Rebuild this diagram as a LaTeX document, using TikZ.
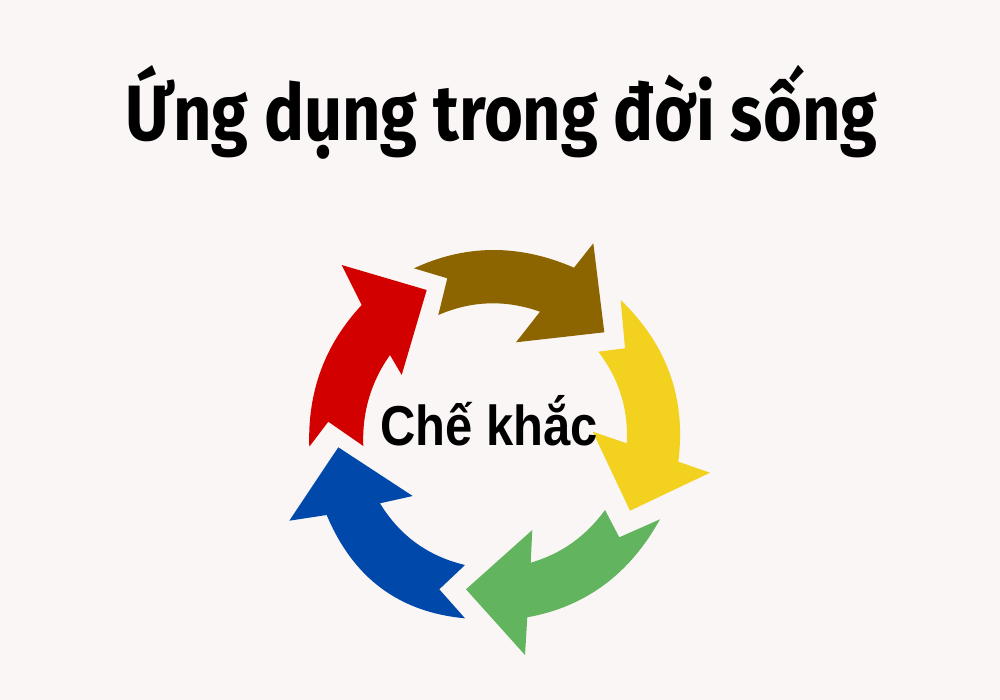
\documentclass[tikz,border=0pt]{standalone}
\usepackage{fontspec}
\newfontfamily\titlefont[FakeStretch=0.85]{Fira Sans}
\newfontfamily\centerfont[FakeStretch=0.87]{Liberation Sans}
\definecolor{bgc}{HTML}{FAF6F5}
\definecolor{cred}{HTML}{D30000}
\definecolor{cbrown}{HTML}{8C6400}
\definecolor{cyellow}{HTML}{F2D21E}
\definecolor{cgreen}{HTML}{62B45E}
\definecolor{cblue}{HTML}{0048AA}
\begin{document}
\begin{tikzpicture}[x=0.03cm,y=-0.03cm,
  arrowshape/.style={draw=none},
  titletext/.style={anchor=base,inner sep=0pt,font=\titlefont\bfseries\fontsize{67}{80}\selectfont},
  centertext/.style={anchor=base,inner sep=0pt,font=\centerfont\bfseries\fontsize{48}{56}\selectfont}]
\fill[bgc] (0,0) rectangle (1000,700);
\useasboundingbox (0,0) rectangle (1000,700);
% brown
\fill[cbrown,arrowshape] (414,268.3) -- (447.3,278.3) -- (438.3,315)
  .. controls (471.7,300.6) and (505.6,299.5) .. (540,311.7)
  -- (516,342.3) -- (604.3,332.3) -- (593.3,243.3) -- (574,267.7)
  .. controls (519.3,243.9) and (466,244.1) .. (414,268.3) -- cycle;
% yellow
\fill[cyellow,arrowshape] (620.7,300) -- (625,348.3) -- (598.3,351.7)
  .. controls (619.1,378.9) and (628.6,409.4) .. (626.7,443.3)
  -- (592.7,431.7) -- (630,510.7) -- (710,472.7) -- (678.3,461.7)
  .. controls (686.4,398.7) and (667.2,344.8) .. (620.7,300) -- cycle;
% green
\fill[cgreen,arrowshape] (660,519.3) -- (619.3,537.3) -- (605,510)
  .. controls (585.8,536.4) and (561,554) .. (530.7,562.7)
  -- (532.3,530) -- (466,589.3) -- (525,655) -- (527.3,617.3)
  .. controls (585.3,606.9) and (629.6,574.2) .. (660,519.3) -- cycle;
% blue
\fill[cblue,arrowshape] (465,618.3) -- (439.3,589.3) -- (465,565)
  .. controls (428,556.2) and (399.7,535.7) .. (380,503.3)
  -- (412.7,496) -- (338.3,447.3) -- (289.3,520.7) -- (326.7,515)
  .. controls (353,577.9) and (399.1,612.3) .. (465,618.3) -- cycle;
% red
\fill[cred,arrowshape] (309.3,446.7) -- (328.3,421.7) -- (363.3,446)
  .. controls (362,412.3) and (370.9,382) .. (390,355)
  -- (401.7,375) -- (426.7,290) -- (341.7,265) -- (361.7,305)
  .. controls (324.9,344.4) and (307.4,391.7) .. (309.3,446.7) -- cycle;
\node[titletext] (title) at (501.5,140) {Ứng dụng trong đời sống};
\node[centertext] (center) at (489,445) {Chế khắc};
\end{tikzpicture}
\end{document}
